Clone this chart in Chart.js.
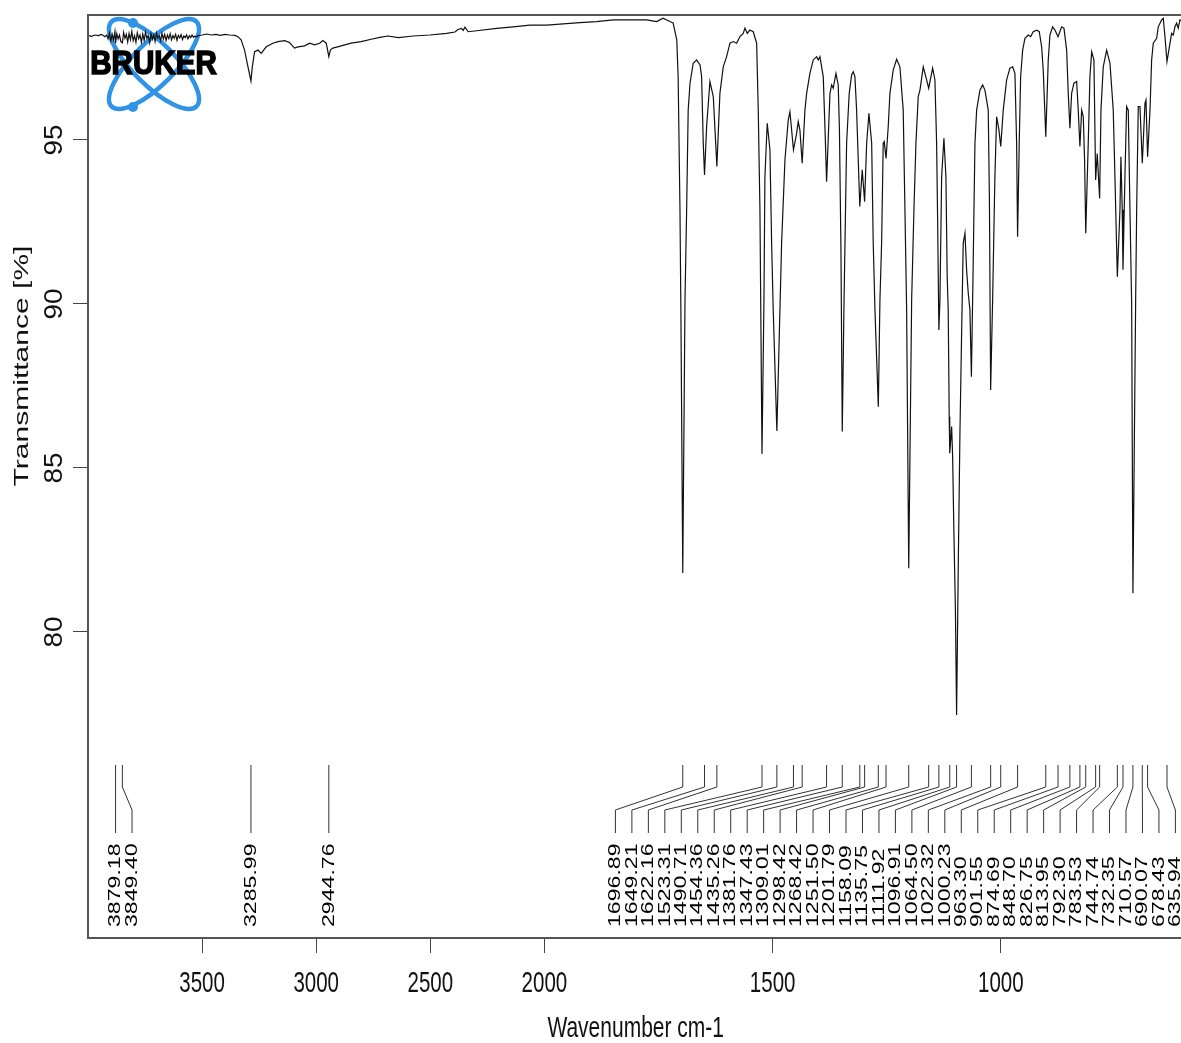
<!DOCTYPE html>
<html>
<head>
<meta charset="utf-8">
<title>IR spectrum</title>
<script src="https://cdn.jsdelivr.net/npm/chart.js@4.4.0/dist/chart.umd.min.js"></script>
<style>
  html, body { margin: 0; padding: 0; background: #fff; overflow: hidden; }
  #wrap { width: 1181px; height: 1043px; overflow: hidden; }
</style>
</head>
<body>
<div id="wrap"><canvas id="irChart" width="1200" height="1043"></canvas></div>
<script>
// spectrum, wavenumber (cm-1) and transmittance (%)
const wavenumbers = [
  4000, 3985, 3970, 3955, 3940, 3926, 3918, 3912, 3906, 3900, 3894, 3888, 3882, 3879.18, 3874, 3868,
  3862, 3856, 3849.40, 3844, 3838, 3832, 3826, 3820, 3814, 3808, 3802, 3796, 3790, 3784, 3778, 3772,
  3766, 3760, 3754, 3748, 3742, 3736, 3730, 3724, 3718, 3712, 3706, 3700, 3694, 3688, 3682, 3676,
  3670, 3664, 3658, 3652, 3646, 3640, 3634, 3628, 3622, 3616, 3610, 3604, 3598, 3592, 3586, 3580,
  3574, 3568, 3562, 3556, 3550, 3544, 3538, 3532, 3526, 3518, 3500, 3480, 3460, 3440, 3420, 3400,
  3380, 3356, 3343, 3329,
  3314, 3299, 3285.99, 3280, 3270, 3255, 3241, 3219, 3190, 3168, 3138, 3117, 3095, 3080, 3051, 3029,
  3007, 2985, 2971, 2956, 2944.76, 2938, 2927, 2890, 2847, 2803, 2759, 2721, 2686, 2640, 2575, 2502,
  2429, 2392, 2379, 2363, 2356, 2348, 2334, 2297, 2209, 2137, 2064, 1995, 1959, 1922, 1886, 1849,
  1813, 1776, 1754, 1740, 1732, 1725, 1718, 1710, 1707, 1703, 1701, 1696.89, 1692, 1688.4, 1685, 1681,
  1674, 1666.5, 1659, 1655.6, 1652, 1649.21, 1644.6, 1637.4, 1630, 1622.16, 1615.5, 1608.2, 1600.8, 1593.5,
  1586.3, 1579, 1571.6, 1564.4, 1560.7, 1555.6, 1549.7, 1542.5, 1535, 1531.5, 1527.8, 1523.31, 1519, 1516.9,
  1511.8, 1505.9, 1502.2, 1498.7, 1490.71, 1484, 1480.3, 1473, 1465.8, 1462.1, 1454.36, 1447.4, 1443.9, 1440.2,
  1435.26, 1429.2, 1425.5, 1418.3, 1411, 1403.6, 1400, 1396.4, 1389.1, 1385.4, 1381.76, 1374.4, 1370.7, 1367.2,
  1361.3, 1356.3, 1353.6, 1350.3, 1347.43, 1343.5, 1337.9, 1332.2, 1326.9, 1323.4, 1319.7, 1316, 1312.4, 1309.01,
  1303.7, 1298.42, 1294, 1289, 1283, 1279.6, 1275.8, 1268.42, 1264.9, 1261.2, 1257.7, 1255.5, 1251.50, 1246.7,
  1243, 1235.8, 1228.3, 1221.1, 1213.9, 1210.1, 1206.4, 1201.79, 1195.4, 1190.4, 1186, 1181, 1177.2, 1170,
  1162.6, 1158.09, 1149.4, 1144.4, 1140.7, 1138.5, 1135.75, 1133.4, 1129.7, 1124.7, 1120.3, 1117.5, 1115.3, 1113.1,
  1111.92, 1107.8, 1105.6, 1102.8, 1099.5, 1096.91, 1093.3, 1089.6, 1085.9, 1082.4, 1078.6, 1075, 1071.4, 1067.7,
  1064.50, 1061.1, 1056.7, 1053, 1045.8, 1039.9, 1034.8, 1027.6, 1025, 1022.32, 1018, 1013, 1009.2, 1004.1,
  1000.23, 994.7, 987.3, 980.1, 974.1, 969.1, 965.4, 963.30, 959.7, 956.6, 952.2, 947.2, 940, 934.7,
  929, 921.5, 915.8, 910.6, 907.1, 901.55, 896.1, 892.4, 886.5, 881.5, 874.69, 866.8, 861.7, 855.8,
  852.3, 848.70, 844.9, 839.8, 833.9, 830.4, 826.75, 822.9, 819.4, 816.5, 813.95, 808.5, 804.8, 801,
  796, 792.30, 788.8, 783.53, 780.6, 775.6, 768.2, 760.9, 753.7, 750, 744.74, 739, 736.9, 734,
  732.35, 728.1, 724.4, 720.8, 717.1, 713.4, 710.57, 704.6, 702.4, 698.9, 695.2, 692, 690.07, 684.2,
  682, 678.43, 673.2, 669.6, 666, 658.6, 655.1, 647.7, 644.1, 640.4, 635.94, 629.4, 625.7, 622.2,
  618.5, 614.8, 611.3, 607.6, 600
];
const transmittance = [
  98.19, 98.16, 98.20, 98.18, 98.22, 98.15, 98.20, 98.08, 98.26, 98.02, 98.22, 98.05, 98.30, 97.95, 98.24, 98.08,
  98.20, 98.00, 97.96, 98.28, 98.10, 98.22, 97.99, 98.25, 98.06, 98.31, 98.03, 98.18, 97.98, 98.27, 98.09, 98.20,
  97.97, 98.23, 98.04, 98.29, 98.10, 98.18, 97.96, 98.24, 98.07, 98.21, 98.00, 98.26, 98.11, 98.19, 98.02, 98.25,
  98.08, 98.22, 98.03, 98.20, 98.09, 98.24, 98.05, 98.18, 98.10, 98.22, 98.04, 98.19, 98.11, 98.21, 98.06, 98.17,
  98.12, 98.20, 98.08, 98.18, 98.12, 98.20, 98.13, 98.17, 98.14, 98.18, 98.20, 98.23, 98.20, 98.22, 98.19, 98.22,
  98.20, 98.19, 98.15, 98.05,
  97.74, 97.23, 96.80, 97.23, 97.69, 97.74, 97.64, 97.84, 97.95, 98.00, 98.03, 97.97, 97.80, 97.84, 97.87, 97.95,
  97.90, 97.95, 98.03, 97.95, 97.54, 97.74, 97.80, 97.87, 97.95, 98.00, 98.07, 98.13, 98.17, 98.12, 98.17, 98.20,
  98.25, 98.29, 98.37, 98.40, 98.34, 98.44, 98.30, 98.33, 98.40, 98.45, 98.50, 98.50, 98.54, 98.58, 98.61, 98.66,
  98.66, 98.66, 98.61, 98.71, 98.66, 98.61, 98.57, 98.05, 96.93, 92.87, 89.82, 81.80, 90.12, 92.87, 95.91, 96.73,
  97.34, 97.44, 97.29, 96.93, 94.91, 93.93, 95.41, 96.78, 96.32, 94.19, 96.42, 97.23, 97.54, 97.95,
  98.00, 97.95, 98.15, 98.25, 98.41, 98.25, 98.35, 98.30, 97.95, 95.91, 92.87, 85.43, 90.12, 93.88,
  95.51, 94.70, 91.86, 89.82, 86.13, 89.82, 91.86, 94.39, 95.61, 95.86, 94.70, 95.20, 95.56, 95.30,
  94.29, 95.91, 96.42, 97.03, 97.44, 97.54, 97.44, 97.54, 96.93, 95.41, 93.73, 96.42, 96.68, 96.58,
  97.03, 96.68, 95.30, 91.65, 86.11, 90.12, 94.90, 96.42, 96.98, 97.08, 96.93, 95.91, 94.39, 92.97,
  94.09, 93.12, 94.90, 95.81, 94.90, 91.85, 89.82, 86.87, 90.12, 91.86, 94.90, 94.95, 94.44, 95.41,
  96.42, 97.13, 97.46, 97.23, 95.91, 92.87, 89.82, 81.94, 90.12, 92.87, 94.90, 96.32, 96.52, 97.23,
  96.83, 96.58, 97.19, 96.83, 94.90, 92.56, 89.21, 90.12, 93.88, 95.05, 93.88, 90.83, 89.82, 86.56,
  85.45, 86.26, 85.34, 83.01, 80.67, 77.47, 81.99, 86.07, 89.12, 91.85, 92.16, 91.04, 90.33, 89.82,
  87.78, 90.73, 94.90, 95.91, 96.52, 96.68, 96.52, 95.91, 93.17, 87.38, 90.12, 93.88, 95.71, 95.30,
  94.80, 95.91, 96.83, 97.19, 97.23, 97.03, 94.90, 92.05, 94.90, 96.93, 97.74, 98.10, 98.20, 98.15,
  98.30, 98.35, 98.30, 97.84, 97.13, 95.10, 97.44, 98.20, 98.45, 98.35, 98.15, 98.45, 98.41, 97.74,
  96.42, 95.36, 96.42, 96.73, 96.78, 95.91, 94.80, 95.91, 95.71, 94.39, 92.16, 94.90, 96.93, 97.69,
  97.44, 93.78, 94.59, 93.22, 95.91, 97.23, 97.74, 97.34, 95.91, 93.88, 90.83, 92.87, 94.49, 92.87,
  91.04, 93.88, 96.02, 95.91, 92.87, 90.02, 81.18, 90.12, 92.87, 96.02, 96.02, 94.95, 94.29, 96.12,
  96.22, 94.49, 95.91, 97.44, 97.95, 98.10, 98.45, 98.66, 98.71, 98.15, 97.39, 97.95, 98.25, 98.20,
  98.45, 98.56, 98.41, 98.66, 98.60
];

// picked peaks, labelled below the trace
const peakWavenumbers = [
  3879.18, 3849.40, 3285.99, 2944.76, 1696.89, 1649.21, 1622.16, 1523.31, 1490.71, 1454.36,
  1435.26, 1381.76, 1347.43, 1309.01, 1298.42, 1268.42, 1251.50, 1201.79, 1158.09, 1135.75,
  1111.92, 1096.91, 1064.50, 1022.32, 1000.23, 963.30, 901.55, 874.69, 848.70, 826.75,
  813.95, 792.30, 783.53, 744.74, 732.35, 710.57, 690.07, 678.43, 635.94
];

const xTickValues = [3500, 3000, 2500, 2000, 1500, 1000];
const yTickValues = [80, 85, 90, 95];

// above 2000 cm-1 the axis runs at half scale
function toAxis(w) { return w > 2000 ? 2000 + (w - 2000) / 2 : w; }
function fromAxis(u) { return u > 2000 ? 2000 + (u - 2000) * 2 : u; }

const FONT = '"Liberation Sans", Arial, sans-serif';
const STRETCH = 1.43;

// text comes out tall and narrow
function drawText(ctx, text, x, y, size, rotated, align, stretch) {
  const k = stretch || STRETCH;
  ctx.save();
  ctx.translate(x, y);
  if (rotated) {
    ctx.rotate(-Math.PI / 2);
    ctx.scale(k, 1);
  } else {
    ctx.scale(1, k);
  }
  ctx.font = size + 'px ' + FONT;
  ctx.textAlign = align || 'center';
  ctx.textBaseline = 'middle';
  ctx.fillText(text, 0, 0);
  ctx.restore();
}

function drawLogo(ctx) {
  const cx = 154, cy = 64;
  ctx.save();
  ctx.strokeStyle = '#3193e6';
  ctx.fillStyle = '#3193e6';
  ctx.lineWidth = 4.5;
  [Math.PI / 4, -Math.PI / 4].forEach(r => {
    ctx.beginPath();
    ctx.ellipse(cx, cy, 60, 21, r, 0, Math.PI * 2);
    ctx.stroke();
  });
  [[133, 23], [133, 107]].forEach(([px, py]) => {
    ctx.beginPath();
    ctx.arc(px, py, 5, 0, Math.PI * 2);
    ctx.fill();
  });
  ctx.translate(153.5, 65);
  ctx.scale(1.02, 1.12);
  ctx.font = 'bold 29px ' + FONT;
  ctx.textAlign = 'center';
  ctx.textBaseline = 'middle';
  ctx.fillStyle = '#000';
  ctx.strokeStyle = '#000';
  ctx.lineWidth = 1.4;
  ctx.fillText('BRUKER', 0, 0);
  ctx.strokeText('BRUKER', 0, 0);
  ctx.restore();
}

function drawPeakLabels(chart) {
  const { ctx, chartArea: a, scales: { x } } = chart;
  const gap = 16.47;
  const peaks = peakWavenumbers
    .map(w => ({ w, px: x.getPixelForValue(toAxis(w)) }))
    .sort((p, q) => p.px - q.px);

  // spread the labels so they don't overlap, pushing back from the right edge
  const pos = [];
  peaks.forEach((p, i) => { pos[i] = i === 0 ? p.px : Math.max(p.px, pos[i - 1] + gap); });
  pos[pos.length - 1] = Math.min(pos[pos.length - 1], a.right - 8);
  for (let i = pos.length - 2; i >= 0; i--) pos[i] = Math.min(pos[i], pos[i + 1] - gap);

  const yTop = a.bottom - 173, yBend1 = a.bottom - 151, yBend2 = a.bottom - 128, yEnd = a.bottom - 105;
  ctx.save();
  ctx.strokeStyle = '#333';
  ctx.lineWidth = 1;
  peaks.forEach((p, i) => {
    ctx.beginPath();
    ctx.moveTo(p.px, yTop);
    ctx.lineTo(p.px, yBend1);
    ctx.lineTo(pos[i], yBend2);
    ctx.lineTo(pos[i], yEnd);
    ctx.stroke();
  });
  ctx.fillStyle = '#000';
  peaks.forEach((p, i) => drawText(ctx, p.w.toFixed(2), pos[i], a.bottom - 11, 17, true, 'left', 1.36));
  ctx.restore();
}

const spectrumDecor = {
  id: 'spectrumDecor',
  beforeDatasetsDraw(chart) {
    drawLogo(chart.ctx);
  },
  afterDraw(chart) {
    const { ctx, chartArea: a, scales: { x, y } } = chart;
    ctx.save();
    ctx.strokeStyle = '#555';
    ctx.lineWidth = 2;
    ctx.strokeRect(a.left, a.top, a.right - a.left, a.bottom - a.top);
    ctx.fillStyle = '#111';
    x.ticks.forEach(t => drawText(ctx, String(fromAxis(t.value)), x.getPixelForValue(t.value), a.bottom + 46, 20.5, false));
    y.ticks.forEach(t => drawText(ctx, String(t.value), a.left - 33, y.getPixelForValue(t.value), 26, true, 'center', 1.07));
    drawText(ctx, 'Wavenumber cm-1', (a.left + a.right) / 2, a.bottom + 91, 21, false);
    drawText(ctx, 'Transmittance [%]', 22, 366, 21, true);
    ctx.restore();
    drawPeakLabels(chart);
  }
};

new Chart(document.getElementById('irChart'), {
  type: 'line',
  data: {
    datasets: [{
      label: 'Transmittance',
      data: wavenumbers.map((w, i) => ({ x: toAxis(w), y: transmittance[i] })),
      borderColor: '#111',
      borderWidth: 1.2,
      pointRadius: 0,
      tension: 0,
      fill: false
    }]
  },
  options: {
    responsive: false,
    animation: false,
    devicePixelRatio: 1,
    layout: { padding: { left: 73, top: 15, right: 16.6, bottom: 90 } },
    plugins: { legend: { display: false }, tooltip: { enabled: false } },
    scales: {
      x: {
        type: 'linear',
        reverse: true,
        min: 600,
        max: 3000,
        afterBuildTicks: s => { s.ticks = xTickValues.map(w => ({ value: toAxis(w) })); },
        afterFit: s => { s.height = 15; },
        grid: { drawOnChartArea: false, tickLength: 15, color: '#444', lineWidth: 1 },
        border: { display: true, color: '#555', width: 2 },
        ticks: { display: false }
      },
      y: {
        type: 'linear',
        min: 70.67,
        max: 98.81,
        afterBuildTicks: s => { s.ticks = yTickValues.map(v => ({ value: v })); },
        afterFit: s => { s.width = 15; },
        grid: { drawOnChartArea: false, tickLength: 15, color: '#444', lineWidth: 1 },
        border: { display: true, color: '#555', width: 2 },
        ticks: { display: false }
      }
    }
  },
  plugins: [spectrumDecor]
});
</script>
</body>
</html>
